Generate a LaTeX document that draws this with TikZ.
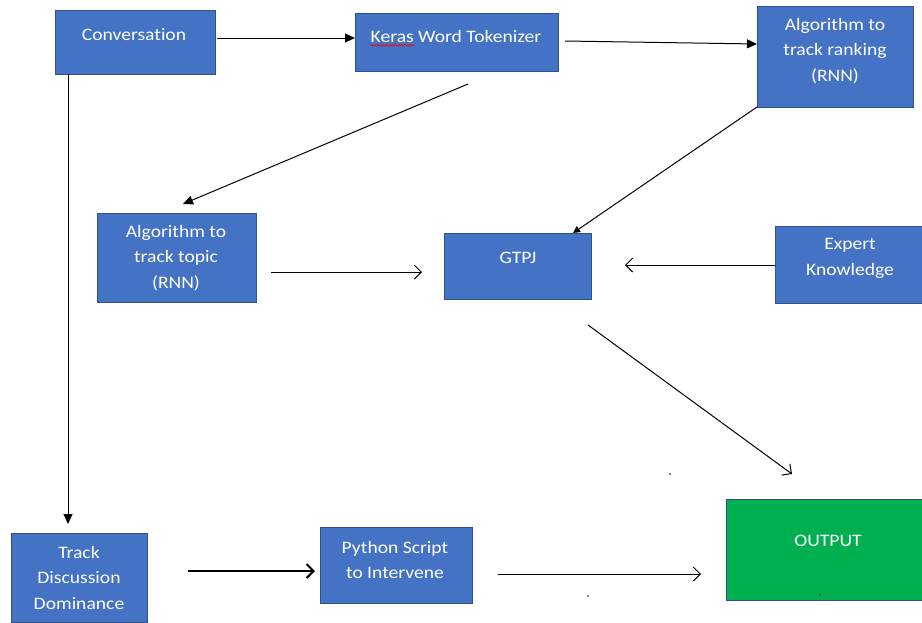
\documentclass[tikz,border=0pt]{standalone}
\usepackage{fontspec}
\setmainfont{Carlito}[Ligatures={NoCommon}, FakeStretch=1.12]
\usetikzlibrary{arrows.meta,calc,decorations.pathmorphing}
\definecolor{boxblue}{HTML}{4472C4}
\definecolor{boxedge}{HTML}{2F528F}
\definecolor{outgreen}{HTML}{00B050}
\tikzset{
  box/.style={draw=boxedge, line width=1.2pt, fill=boxblue, rectangle, inner sep=0pt, anchor=north west},
  outbox/.style={box, fill=outgreen},
  txt/.style={text=white, font=\fontsize{17.5}{25.5}\selectfont, align=center, inner sep=0pt},
  conn/.style={draw=black, line width=1pt},
  filled/.style={conn, -{Triangle[length=10pt,width=9pt]}},
  open/.style={conn, -{Straight Barb[length=7pt,width=14pt,line width=1pt]}},
  speck/.style={fill=black, circle, inner sep=0pt, minimum size=1.6pt}
}
\begin{document}
\begin{tikzpicture}[x=1pt,y=-1pt]
\useasboundingbox[fill=white] (0,0) rectangle (922,622);
% boxes
\node[box, minimum width=160pt, minimum height=64pt] (conv) at (55,10) {};
\node[box, minimum width=203pt, minimum height=58pt] (keras) at (355,13) {};
\node[box, minimum width=156pt, minimum height=101pt] (rank) at (757,6) {};
\node[box, minimum width=159pt, minimum height=89pt] (topic) at (97,213) {};
\node[box, minimum width=147pt, minimum height=66pt] (gtpj) at (444,233) {};
\node[box, minimum width=150pt, minimum height=77pt] (expert) at (775,226) {};
\node[box, minimum width=136pt, minimum height=89pt] (track) at (11,533) {};
\node[box, minimum width=152pt, minimum height=76pt] (python) at (320,527) {};
\node[outbox, minimum width=200pt, minimum height=101pt] (out) at (726,499) {};
% texts
\node[txt] (convt) at (134,35) {Conversation};
\node[txt] (kerast) at (456,36) {Keras Word Tokenizer};
\node[txt] (rankt) at (835,51) {Algorithm to\\track ranking\\(RNN)};
\node[txt] (topict) at (176,258) {Algorithm to\\track topic\\(RNN)};
\node[txt] (gtpjt) at (518,258) {GTPJ};
\node[txt] (expertt) at (850,258.5) {Expert\\Knowledge};
\node[txt] (trackt) at (79,577.5) {Track\\Discussion\\Dominance};
\node[txt] (pythont) at (395,560) {Python Script\\to Intervene};
\node[txt] (outt) at (828,541) {OUTPUT};
% spell-check underline
\draw[red, line width=0.6pt, decorate, decoration={snake, amplitude=0.9pt, segment length=3pt}]
  ($(kerast.south west)+(0,3)$) -- ++(44,0);
% free ends of connectors
\coordinate (c1a) at (217,38);  \coordinate (c1b) at (355,38);
\coordinate (c2a) at (565,41);  \coordinate (c2b) at (757,44);
\coordinate (c3a) at (468,84);  \coordinate (c3b) at (183,204);
\coordinate (c4a) at (757,107); \coordinate (c4b) at (573,233);
\coordinate (c5a) at (68,74);   \coordinate (c5b) at (68,524);
\coordinate (c6a) at (271,272); \coordinate (c6b) at (422,272);
\coordinate (c7a) at (775,265); \coordinate (c7b) at (625,265);
\coordinate (c8a) at (588,325); \coordinate (c8b) at (792,474);
\coordinate (c9a) at (188,571); \coordinate (c9b) at (315,571);
\coordinate (c10a) at (498,574); \coordinate (c10b) at (701,574);
% connectors
\draw[filled] (c1a) -- (c1b);
\draw[filled] (c2a) -- (c2b);
\draw[filled] (c3a) -- (c3b);
\draw[filled, -{Triangle[length=7pt,width=7pt]}] (c4a) -- (c4b);
\draw[filled] (c5a) -- (c5b);
\draw[open] (c6a) -- (c6b);
\draw[open] (c7a) -- (c7b);
\draw[open] (c8a) -- (c8b);
\draw[open, line width=2pt, -{Straight Barb[length=7pt,width=14pt,line width=2pt]}] (c9a) -- (c9b);
\draw[open] (c10a) -- (c10b);
% specks
\node[speck] (s1) at (670,474) {};
\node[speck] (s2) at (588,596) {};
\node[speck] (s3) at (820,595) {};
\end{tikzpicture}
\end{document}
